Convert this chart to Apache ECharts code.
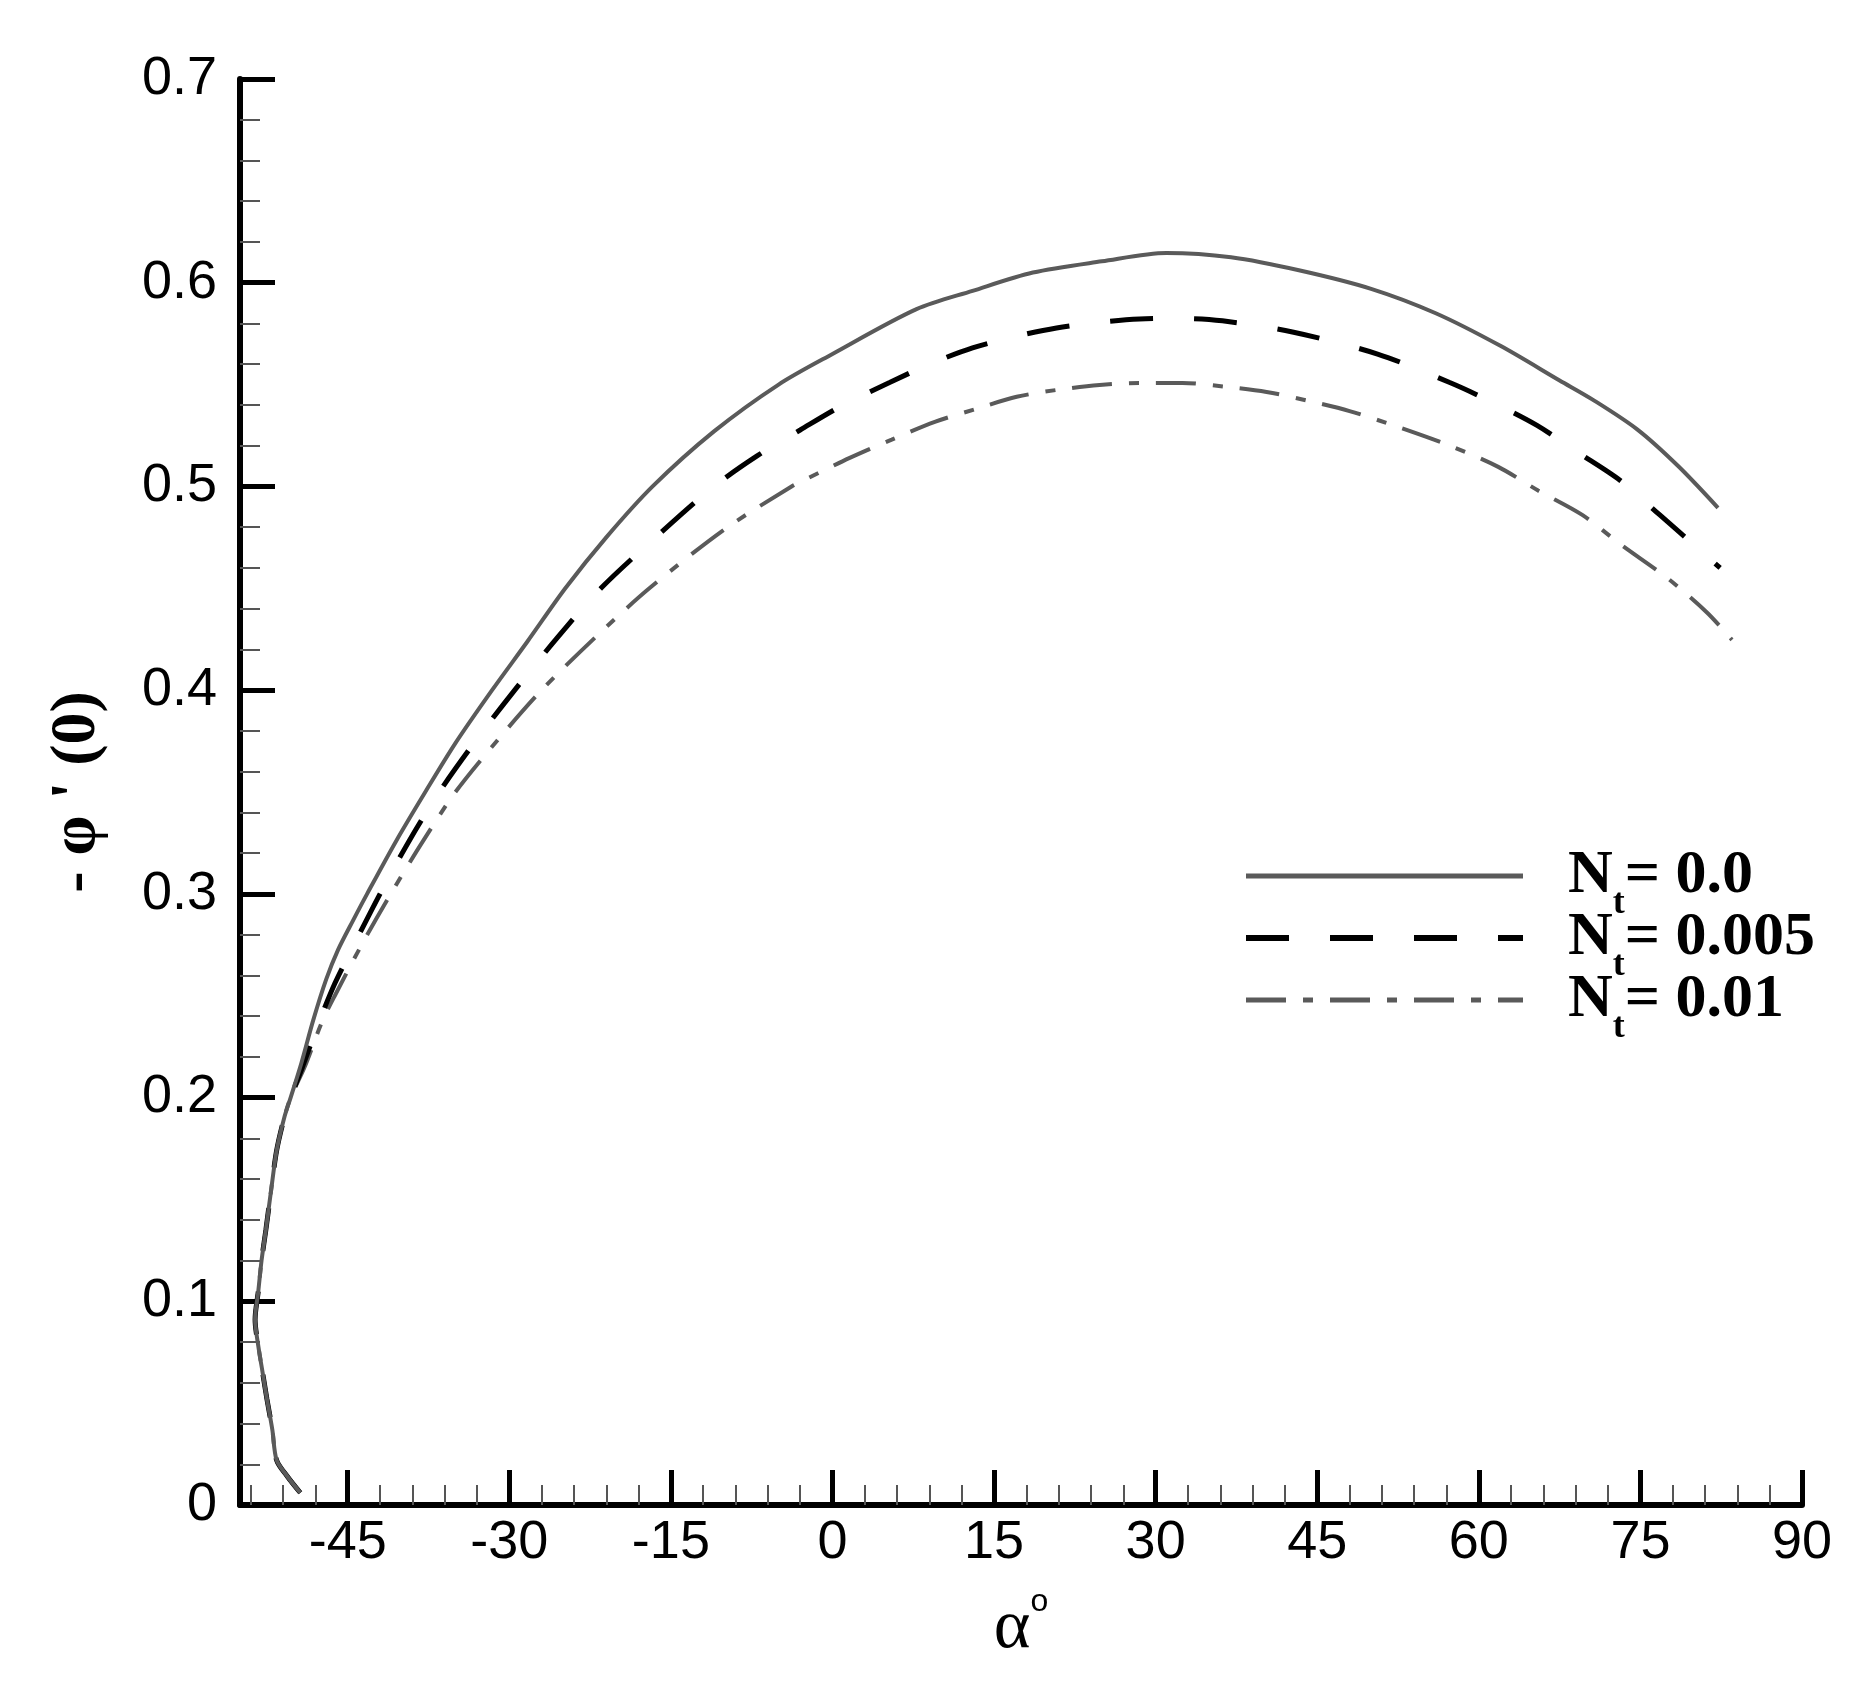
<!DOCTYPE html>
<html>
<head>
<meta charset="utf-8">
<script src="https://cdn.jsdelivr.net/npm/echarts@6/dist/echarts.min.js"></script>
<style>
html,body{margin:0;padding:0;background:#fff;}
#chart{width:1869px;height:1686px;}
</style>
</head>
<body>
<div id="chart"></div>
<script>
// ---- data (alpha in degrees, -phi'(0)) ----
const seriesNames = ['Nt= 0.0', 'Nt= 0.005', 'Nt= 0.01'];
const legendValues = ['0.0', '0.005', '0.01'];

const alphaNt0 = [-49.4, -50.6, -51.6, -52.0, -52.5, -52.9, -53.3, -53.6, -53.3, -53.0, -52.6, -52.1, -51.6, -50.9, -50.3, -49.3, -48.2, -47.0, -45.9, -44.5, -43.2, -40.5, -37.8, -35.0, -31.6, -28.3, -24.8, -21.0, -16.7, -11.0, -5.0, 0.0, 7.8, 13.0, 18.6, 25.0, 31.0, 37.0, 43.4, 50.0, 56.0, 62.0, 67.5, 70.6, 74.7, 78.5, 82.2];
const phiNt0 = [0.006, 0.014, 0.022, 0.037, 0.052, 0.065, 0.078, 0.091, 0.105, 0.12, 0.135, 0.155, 0.174, 0.19, 0.2, 0.217, 0.238, 0.258, 0.2725, 0.287, 0.3, 0.326, 0.35, 0.374, 0.4, 0.424, 0.45, 0.475, 0.5, 0.527, 0.55, 0.565, 0.587, 0.596, 0.605, 0.6105, 0.6146, 0.6125, 0.606, 0.597, 0.585, 0.569, 0.552, 0.5425, 0.528, 0.510, 0.4895];

const alphaNt005 = [-49.4, -50.6, -51.6, -52.0, -52.5, -52.9, -53.3, -53.6, -53.3, -53.0, -52.6, -52.1, -51.6, -50.9, -50.3, -49.2, -47.6, -46.2, -44.8, -42.0, -39.3, -36.5, -33.0, -29.5, -25.5, -21.5, -16.0, -11.0, -7.0, -3.0, 1.0, 5.3, 9.0, 13.0, 16.9, 20.8, 24.6, 28.5, 32.3, 36.2, 42.7, 50.6, 57.3, 61.2, 65.4, 69.1, 73.1, 76.8, 79.6, 82.4];
const phiNt005 = [0.006, 0.014, 0.022, 0.037, 0.052, 0.065, 0.078, 0.091, 0.105, 0.12, 0.135, 0.155, 0.174, 0.19, 0.2, 0.215, 0.238, 0.256, 0.271, 0.3, 0.326, 0.35, 0.376, 0.4, 0.426, 0.45, 0.477, 0.5, 0.515, 0.5277, 0.540, 0.551, 0.560, 0.568, 0.5735, 0.5778, 0.5805, 0.5822, 0.5825, 0.5813, 0.5758, 0.565, 0.551, 0.5415, 0.530, 0.517, 0.503, 0.486, 0.473, 0.460];

const alphaNt01 = [-49.4, -50.6, -51.6, -52.0, -52.5, -52.9, -53.3, -53.6, -53.3, -53.0, -52.6, -52.1, -51.6, -50.9, -50.3, -49.0, -47.4, -46.2, -43.6, -41.0, -38.0, -35.0, -31.0, -27.0, -22.0, -17.0, -10.0, -3.8, -2.3, 1.6, 5.5, 9.5, 13.3, 17.1, 21.0, 24.8, 28.6, 32.5, 36.4, 40.3, 44.2, 48.0, 52.6, 57.3, 61.8, 65.5, 69.6, 73.3, 77.5, 81.2, 83.5];
const phiNt01 = [0.006, 0.014, 0.022, 0.037, 0.052, 0.065, 0.078, 0.091, 0.105, 0.12, 0.135, 0.155, 0.174, 0.19, 0.2, 0.215, 0.237, 0.25, 0.276, 0.3, 0.326, 0.35, 0.376, 0.4, 0.426, 0.45, 0.479, 0.5, 0.504, 0.514, 0.523, 0.5317, 0.538, 0.544, 0.5475, 0.5498, 0.5508, 0.5508, 0.549, 0.5464, 0.542, 0.537, 0.529, 0.520, 0.5096, 0.498, 0.486, 0.471, 0.455, 0.438, 0.4247];

const xMajorTicks = [-45, -30, -15, 0, 15, 30, 45, 60, 75, 90];
const xMinorTicks = [-54, -51, -48, -42, -39, -36, -33, -27, -24, -21, -18, -12, -9, -6, -3, 3, 6, 9, 12, 18, 21, 24, 27, 33, 36, 39, 42, 48, 51, 54, 57, 63, 66, 69, 72, 78, 81, 84, 87];

function pairs(xs, ys) { return xs.map((x, i) => [x, ys[i]]); }

const chart = echarts.init(document.getElementById('chart'), null, {renderer: 'canvas'});

const serif = 'Liberation Serif';
const sans = 'Liberation Sans';
const lineGray = '#5a5a5a';

const styles = [
  {color: lineGray, width: 4, type: 'solid'},
  {color: '#000000', width: 5, type: [43, 41]},
  {color: lineGray, width: 4, type: [40, 17, 10, 17]}
];
const dataSets = [pairs(alphaNt0, phiNt0), pairs(alphaNt005, phiNt005), pairs(alphaNt01, phiNt01)];

const option = {
  backgroundColor: '#ffffff',
  animation: false,
  grid: {left: 240, right: 67, top: 79, bottom: 181, containLabel: false},
  legend: {
    orient: 'vertical',
    left: 1243,
    top: 830,
    padding: 0,
    itemWidth: 277,
    itemHeight: 20,
    itemGap: -30,
    selectedMode: false,
    data: seriesNames.map((n, i) => ({
      name: n,
      lineStyle: {width: i === 1 ? 6 : 5, type: styles[i].type, color: styles[i].color},
      itemStyle: {color: 'rgba(0,0,0,0)', borderWidth: 0, opacity: 0}
    })),
    formatter: function (name) {
      const i = seriesNames.indexOf(name);
      return '{n|N}{t|t}{v|= ' + legendValues[i] + '}';
    },
    textStyle: {
      color: '#000',
      rich: {
        n: {fontFamily: serif, fontWeight: 'bold', fontSize: 62, lineHeight: 50, color: '#000', padding: [0, 0, 0, 40]},
        t: {fontFamily: serif, fontWeight: 'bold', fontSize: 36, lineHeight: 50, color: '#000', padding: [56, 0, 0, 0]},
        v: {fontFamily: serif, fontWeight: 'bold', fontSize: 62, lineHeight: 50, color: '#000'}
      }
    }
  },
  xAxis: [
    {
      type: 'value', min: -55, max: 90,
      position: 'bottom',
      name: '{a|α}{s|o}',
      nameLocation: 'middle',
      nameGap: 124,
      nameTextStyle: {
        verticalAlign: 'middle',
        rich: {
          a: {fontFamily: serif, fontSize: 70, color: '#000'},
          s: {fontFamily: sans, fontSize: 32, color: '#000', padding: [0, 0, 54, 0]}
        }
      },
      axisLine: {show: true, onZero: false, lineStyle: {color: '#000', width: 6}},
      axisTick: {show: true, inside: true, length: 35, lineStyle: {color: '#000', width: 5}, customValues: xMajorTicks},
      axisLabel: {show: true, customValues: xMajorTicks, margin: 11, fontFamily: sans, fontSize: 54, color: '#000'},
      splitLine: {show: false}
    },
    {
      type: 'value', min: -55, max: 90,
      position: 'bottom',
      axisLine: {show: false, onZero: false},
      axisTick: {show: true, inside: true, length: 20, lineStyle: {color: '#555', width: 2}, customValues: xMinorTicks},
      axisLabel: {show: false},
      splitLine: {show: false}
    }
  ],
  yAxis: {
    type: 'value', min: 0, max: 0.7, interval: 0.1,
    position: 'left',
    name: '- φ \' (0)',
    nameLocation: 'middle',
    nameRotate: 90,
    nameGap: 163,
    nameTextStyle: {fontFamily: serif, fontWeight: 'bold', fontSize: 64, color: '#000', verticalAlign: 'middle'},
    axisLine: {show: true, onZero: false, lineStyle: {color: '#000', width: 6}},
    axisTick: {show: true, inside: true, length: 35, lineStyle: {color: '#000', width: 5}},
    minorTick: {show: true, splitNumber: 5, length: 20, lineStyle: {color: '#555', width: 2}},
    axisLabel: {margin: 23, fontFamily: sans, fontSize: 54, color: '#000'},
    splitLine: {show: false}
  },
  series: dataSets.map((d, i) => ({
    name: seriesNames[i],
    type: 'line',
    xAxisIndex: 0,
    data: d,
    symbol: 'none',
    showSymbol: false,
    smooth: 0.3,
    lineStyle: {color: styles[i].color, width: styles[i].width, type: styles[i].type},
    itemStyle: {color: styles[i].color},
    z: 3 - i
  }))
};
chart.setOption(option);
</script>
</body>
</html>
